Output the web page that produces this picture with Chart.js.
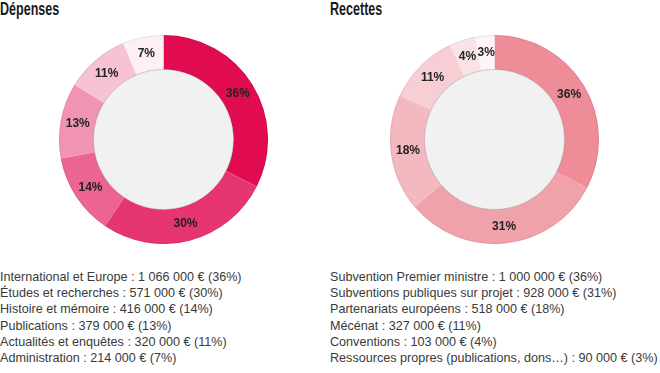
<!DOCTYPE html>
<html>
<head>
<meta charset="utf-8">
<script src="https://cdn.jsdelivr.net/npm/chart.js@4/dist/chart.umd.min.js"></script>
<style>
  html, body { margin: 0; padding: 0; background: #fff; }
  body { width: 660px; height: 373px; position: relative; overflow: hidden; font-family: "Liberation Sans", sans-serif; }
  .title { position: absolute; top: -2px; font-family: "Liberation Sans", sans-serif; font-weight: bold; font-size: 19px; color: #1a1a1a; transform: scaleX(0.66); transform-origin: 0 0; }
  .legend { position: absolute; top: 269px; font-size: 12.6px; line-height: 16.2px; color: #3a3a3a; white-space: nowrap; }
  canvas { position: absolute; }
</style>
</head>
<body>
<div class="title" style="left:0">Dépenses</div>
<div class="title" style="left:330px">Recettes</div>
<canvas id="dep" width="209" height="209" style="left:59px;top:35px"></canvas>
<canvas id="rec" width="209" height="209" style="left:390px;top:35px"></canvas>
<div class="legend" id="depLegend" style="left:0"></div>
<div class="legend" id="recLegend" style="left:330px"></div>
<script>
// Dépenses
const depLabels = ['International et Europe', 'Études et recherches', 'Histoire et mémoire', 'Publications', 'Actualités et enquêtes', 'Administration'];
const depAmounts = ['1 066 000', '571 000', '416 000', '379 000', '320 000', '214 000'];
const depPercents = [36, 30, 14, 13, 11, 7];
const depSlices = [36, 30, 14, 13, 11, 7];
const depColors = ['#E10B50', '#E63571', '#EC6591', '#F194B3', '#F7C2D5', '#FDF0F4'];

// Recettes
const recLabels = ['Subvention Premier ministre', 'Subventions publiques sur projet', 'Partenariats européens', 'Mécénat', 'Conventions', 'Ressources propres (publications, dons…)'];
const recAmounts = ['1 000 000', '928 000', '518 000', '327 000', '103 000', '90 000'];
const recPercents = [36, 31, 18, 11, 4, 3];
const recSlices = [32.5, 31, 18, 11, 4, 3];
const recColors = ['#EE8C97', '#F0A2AA', '#F3B8C0', '#F7CED3', '#FAE3E6', '#FEF5F6'];

// inner grey disc + percent labels
const donutDecor = {
  id: 'donutDecor',
  afterDatasetsDraw(chart, args, opts) {
    const ctx = chart.ctx;
    const arcs = chart.getDatasetMeta(0).data;
    if (!arcs.length) return;
    const a0 = arcs[0];
    ctx.save();
    ctx.beginPath();
    ctx.arc(a0.x, a0.y, a0.innerRadius, 0, Math.PI * 2);
    ctx.fillStyle = '#F1F1F1';
    ctx.fill();
    ctx.strokeStyle = 'rgba(0,0,0,0.18)';
    ctx.lineWidth = 1;
    ctx.stroke();
    ctx.beginPath();
    ctx.arc(a0.x, a0.y, a0.outerRadius - 0.5, 0, Math.PI * 2);
    ctx.strokeStyle = 'rgba(0,0,0,0.07)';
    ctx.stroke();

    ctx.font = 'bold 12px "Liberation Sans", sans-serif';
    ctx.fillStyle = '#222';
    ctx.textAlign = 'center';
    ctx.textBaseline = 'middle';
    arcs.forEach((arc, i) => {
      const p = arc.tooltipPosition();
      ctx.fillText(opts.texts[i] + '%', p.x, p.y);
    });
    ctx.restore();
  }
};

function makeDonut(id, slices, colors, percents) {
  return new Chart(document.getElementById(id), {
    type: 'doughnut',
    data: {
      labels: percents.map(p => p + '%'),
      datasets: [{
        data: slices,
        backgroundColor: colors,
        borderWidth: 0,
      }],
    },
    options: {
      responsive: false,
      animation: false,
      cutout: '67%',
      layout: { padding: 0 },
      plugins: {
        legend: { display: false },
        tooltip: { enabled: false },
        donutDecor: { texts: percents },
      },
    },
    plugins: [donutDecor],
  });
}

makeDonut('dep', depSlices, depColors, depPercents);
makeDonut('rec', recSlices, recColors, recPercents);

function fillLegend(id, labels, amounts, percents) {
  document.getElementById(id).innerHTML = labels
    .map((l, i) => `<div>${l} : ${amounts[i]} € (${percents[i]}%)</div>`)
    .join('');
}
fillLegend('depLegend', depLabels, depAmounts, depPercents);
fillLegend('recLegend', recLabels, recAmounts, recPercents);
</script>
</body>
</html>
